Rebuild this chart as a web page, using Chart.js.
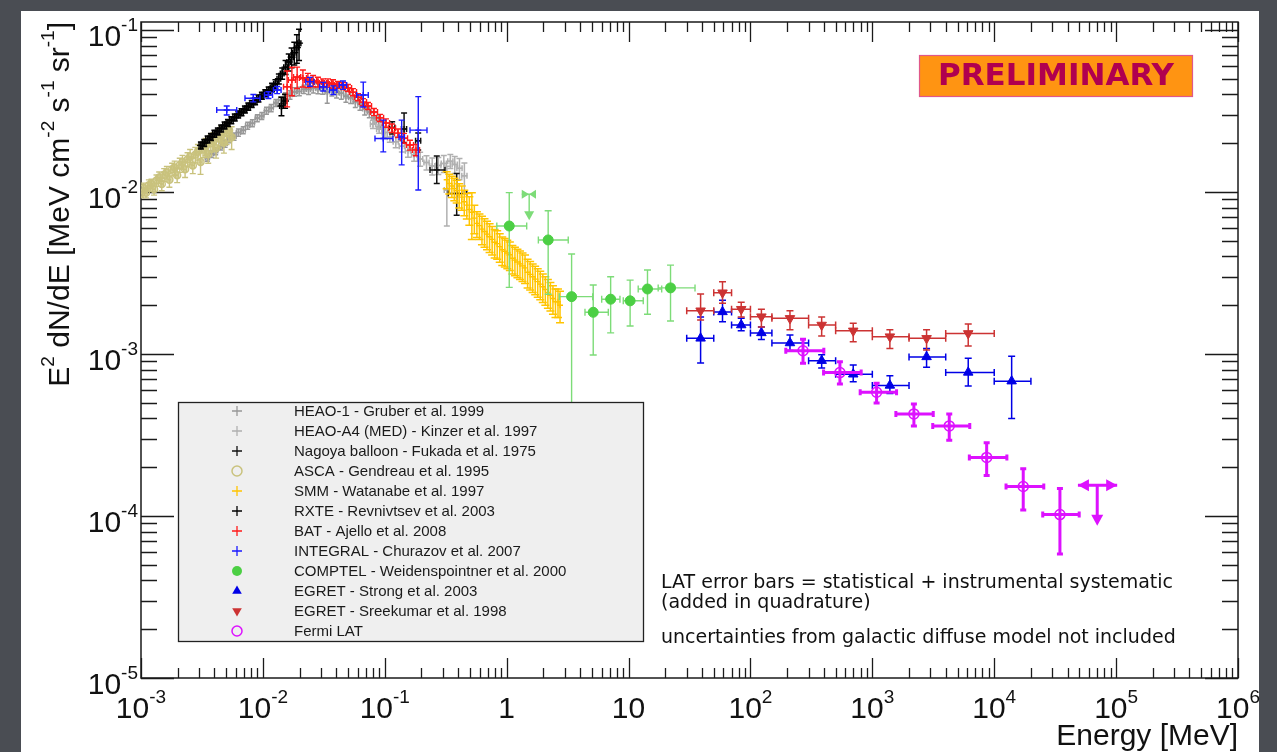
<!DOCTYPE html>
<html>
<head>
<meta charset="utf-8">
<script src="https://cdn.jsdelivr.net/npm/chart.js@4.4.1/dist/chart.umd.min.js"></script>
<style>
  html, body { margin: 0; padding: 0; background: #4a4d53; overflow: hidden; }
  canvas { display: block; }
</style>
</head>
<body>
<canvas id="sed" width="1277" height="752"></canvas>
<script>
// E in MeV, flux as E^2 dN/dE in MeV cm^-2 s^-1 sr^-1
const xTickExp = [-3, -2, -1, 0, 1, 2, 3, 4, 5, 6];
const yTickExp = [-5, -4, -3, -2, -1];

// HEAO-1 (Gruber 1999)
const gruberE = [0.0035,0.0038,0.0041,0.0045,0.0049,0.0053,0.0058,0.0063,0.0069,0.0075,0.0082,0.0090,0.0098,0.0107,0.0117,0.0128,0.0140,0.0153,0.0167,0.0182,0.0199,0.0217,0.0237,0.0259,0.0283,0.0309,0.0337,0.0368,0.0402,0.0440,0.0480,0.0525,0.0573,0.0626,0.0684,0.0747,0.0816,0.0891,0.0973];
const gruberF = [0.0163,0.0172,0.0179,0.0191,0.0199,0.0212,0.0220,0.0233,0.0241,0.0257,0.0266,0.0286,0.0295,0.0318,0.0330,0.0355,0.0369,0.0391,0.0398,0.0415,0.0418,0.0431,0.0430,0.0439,0.0434,0.0437,0.0415,0.0426,0.0413,0.0407,0.0390,0.0382,0.0361,0.0348,0.0325,0.0312,0.0287,0.0274,0.0251];
const gruberErr = [0.05,0.05,0.05,0.05,0.05,0.05,0.05,0.05,0.05,0.05,0.05,0.05,0.05,0.05,0.05,0.05,0.05,0.05,0.06,0.06,0.06,0.06,0.07,0.07,0.07,0.08,0.15,0.08,0.08,0.08,0.08,0.08,0.08,0.08,0.08,0.08,0.08,0.08,0.08];

// HEAO-A4 MED (Kinzer 1997)
const kinzerE = [0.080,0.090,0.100,0.110,0.123,0.138,0.155,0.174,0.195,0.220,0.245,0.275,0.305,0.323,0.345,0.375,0.410,0.450];
const kinzerF = [0.0262,0.0245,0.0233,0.0218,0.0204,0.0192,0.0180,0.0170,0.0160,0.0152,0.0145,0.0146,0.0150,0.0103,0.0155,0.0148,0.0140,0.0126];
const kinzerErr = [0.06,0.06,0.07,0.07,0.08,0.08,0.09,0.09,0.10,0.10,0.12,0.12,0.12,0.40,0.10,0.12,0.15,0.20];

// Nagoya balloon (Fukada 1975)
const nagoyaE = [0.115, 0.144, 0.188, 0.267, 0.389];
const nagoyaF = [0.0250, 0.0245, 0.0207, 0.0137, 0.0098];
const nagoyaElo = [0.109, 0.137, 0.179, 0.235, 0.332];
const nagoyaEhi = [0.121, 0.151, 0.197, 0.312, 0.470];
const nagoyaFlo = [0.0228, 0.0202, 0.0182, 0.0113, 0.0072];
const nagoyaFhi = [0.0272, 0.0307, 0.0231, 0.0167, 0.0130];

// ASCA (Gendreau 1995)
const ascaE = [0.00100,0.00105,0.00110,0.00116,0.00122,0.00128,0.00134,0.00141,0.00148,0.00155,0.00163,0.00171,0.00180,0.00189,0.00198,0.00208,0.00219,0.00230,0.00241,0.00253,0.00266,0.00279,0.00293,0.00308,0.00323,0.00339,0.00356,0.00374,0.00393,0.00413,0.00434,0.00456,0.00479,0.00503,0.00528,0.00554];
const ascaF = [0.0098,0.0106,0.0099,0.0110,0.0112,0.0104,0.0118,0.0123,0.0112,0.0128,0.0132,0.0119,0.0138,0.0141,0.0127,0.0147,0.0153,0.0138,0.0159,0.0165,0.0146,0.0170,0.0177,0.0153,0.0183,0.0191,0.0171,0.0200,0.0206,0.0186,0.0215,0.0224,0.0202,0.0231,0.0240,0.0218];
const ascaErr = [0.06,0.07,0.07,0.08,0.07,0.08,0.08,0.08,0.09,0.09,0.09,0.10,0.09,0.10,0.10,0.10,0.10,0.11,0.10,0.11,0.11,0.11,0.11,0.16,0.11,0.12,0.12,0.12,0.13,0.13,0.13,0.14,0.14,0.15,0.15,0.16];

// SMM (Watanabe 1997)
const smmE = [0.322,0.338,0.355,0.372,0.389,0.408,0.428,0.449,0.471,0.494,0.518,0.543,0.570,0.598,0.627,0.658,0.690,0.724,0.760,0.797,0.836,0.877,0.920,0.965,1.012,1.062,1.114,1.169,1.226,1.286,1.349,1.415,1.485,1.558,1.634,1.714,1.798,1.886,1.979,2.076,2.178,2.285,2.397,2.514,2.637,2.740];
const smmF = [0.0119,0.0113,0.0109,0.0105,0.0102,0.0096,0.0093,0.0087,0.0083,0.0078,0.0075,0.0069,0.0064,0.0062,0.0059,0.0057,0.0055,0.0053,0.0051,0.0049,0.0048,0.0046,0.0044,0.0043,0.0042,0.0041,0.0039,0.0038,0.0037,0.0036,0.0035,0.0034,0.0032,0.0031,0.0030,0.0029,0.0028,0.0027,0.0026,0.0025,0.0024,0.0023,0.0022,0.0021,0.0021,0.0020];
const smmErr = [0.12,0.14,0.15,0.16,0.16,0.17,0.17,0.18,0.18,0.20,0.32,0.20,0.18,0.18,0.20,0.20,0.20,0.20,0.20,0.20,0.20,0.20,0.20,0.20,0.20,0.20,0.20,0.20,0.20,0.20,0.20,0.20,0.20,0.20,0.20,0.20,0.20,0.20,0.20,0.20,0.20,0.20,0.20,0.20,0.20,0.22];

// RXTE (Revnivtsev 2003)
const rxteE = [0.00310,0.00330,0.00352,0.00375,0.00400,0.00427,0.00455,0.00485,0.00517,0.00551,0.00588,0.00627,0.00668,0.00712,0.00759,0.00810,0.00863,0.00920,0.00981,0.01046,0.01115,0.01189,0.01268,0.01352,0.01420,0.01440,0.01520,0.01535,0.01630,0.01720,0.01810,0.01900,0.01980];
const rxteF = [0.0194,0.0201,0.0211,0.0219,0.0229,0.0237,0.0247,0.0258,0.0267,0.0278,0.0289,0.0301,0.0311,0.0324,0.0337,0.0350,0.0364,0.0378,0.0393,0.0408,0.0424,0.0443,0.0465,0.0500,0.0340,0.0540,0.0365,0.0590,0.0635,0.0680,0.0725,0.0780,0.0830];
const rxteErr = [0.05,0.05,0.05,0.05,0.05,0.05,0.05,0.05,0.05,0.05,0.05,0.05,0.05,0.05,0.05,0.05,0.05,0.05,0.05,0.05,0.05,0.06,0.06,0.07,0.13,0.08,0.10,0.10,0.12,0.14,0.16,0.20,0.22];

// Swift BAT (Ajello 2008)
const batE = [0.0158,0.0173,0.0191,0.0213,0.0234,0.0258,0.0283,0.0311,0.0342,0.0376,0.0413,0.0454,0.0499,0.0548,0.0603,0.0662,0.0728,0.0815,0.0914,0.1023,0.1146,0.1283,0.1437,0.1609,0.1802];
const batF = [0.0447,0.0491,0.0513,0.0506,0.0491,0.0485,0.0478,0.0471,0.0471,0.0465,0.0458,0.0452,0.0439,0.0414,0.0385,0.0359,0.0340,0.0312,0.0287,0.0267,0.0248,0.0231,0.0215,0.0195,0.0182];
const batErr = [0.25,0.20,0.15,0.12,0.10,0.08,0.07,0.06,0.06,0.06,0.05,0.05,0.05,0.05,0.05,0.05,0.05,0.05,0.05,0.06,0.06,0.06,0.07,0.07,0.08];

// INTEGRAL (Churazov 2007)
const integralE = [0.00505,0.00835,0.0111,0.0131,0.0243,0.0313,0.0378,0.0454,0.0666,0.0972,0.1376,0.1883];
const integralF = [0.0321,0.0379,0.0397,0.0426,0.0480,0.0447,0.0426,0.0458,0.0397,0.0214,0.0219,0.0241];
const integralElo = [0.00418,0.00713,0.0103,0.0122,0.0225,0.0292,0.0352,0.0423,0.0588,0.0831,0.131,0.161];
const integralEhi = [0.00610,0.00947,0.0120,0.0141,0.0262,0.0335,0.0405,0.0487,0.0732,0.1167,0.145,0.222];
const integralFlo = [0.0299,0.0360,0.0378,0.0405,0.0450,0.0420,0.0400,0.0430,0.0335,0.0177,0.0147,0.0103];
const integralFhi = [0.0340,0.0400,0.0416,0.0448,0.0510,0.0475,0.0452,0.0485,0.0477,0.0278,0.0278,0.0388];

// COMPTEL (Weidenspointner 2000)
const comptelE = [1.05, 2.19, 3.41, 5.13, 7.13, 10.3, 14.3, 22.1];
const comptelF = [6.17e-3, 5.06e-3, 2.26e-3, 1.81e-3, 2.18e-3, 2.13e-3, 2.52e-3, 2.56e-3];
const comptelElo = [0.83, 1.82, 2.70, 4.39, 6.02, 9.05, 12.0, 17.5];
const comptelEhi = [1.46, 3.20, 5.08, 6.82, 8.50, 13.2, 18.7, 35.1];
const comptelFlo = [2.58e-3, 2.34e-3, 3.0e-4, 9.86e-4, 1.35e-3, 1.49e-3, 1.76e-3, 1.60e-3];
const comptelFhi = [9.91e-3, 7.67e-3, 4.14e-3, 2.67e-3, 3.00e-3, 2.86e-3, 3.30e-3, 3.54e-3];
const comptelUlE = [1.53], comptelUlF = [9.68e-3], comptelUlElo = [1.33], comptelUlEhi = [1.74], comptelUlTo = [6.7e-3];

// EGRET energy bins
const egretE = [39, 59, 84, 123, 211, 384, 697, 1393, 2786, 6120, 13900];
const egretElo = [30, 50, 70, 100, 150, 300, 500, 1000, 2000, 4000, 10000];
const egretEhi = [50, 70, 100, 150, 300, 500, 1000, 2000, 4000, 10000, 20000];
// EGRET (Strong 2003)
const strongF = [1.25e-3, 1.82e-3, 1.51e-3, 1.35e-3, 1.17e-3, 9.1e-4, 7.5e-4, 6.4e-4, 9.6e-4, 7.7e-4, 6.8e-4];
const strongFlo = [8.8e-4, 1.58e-3, 1.39e-3, 1.23e-3, 1.05e-3, 8.2e-4, 6.75e-4, 5.7e-4, 8.3e-4, 6.35e-4, 4.0e-4];
const strongFhi = [1.69e-3, 2.15e-3, 1.66e-3, 1.47e-3, 1.31e-3, 9.9e-4, 8.55e-4, 7.35e-4, 1.08e-3, 9.4e-4, 9.7e-4];
// EGRET (Sreekumar 1998)
const sreeF = [1.85e-3, 2.39e-3, 1.89e-3, 1.70e-3, 1.66e-3, 1.51e-3, 1.39e-3, 1.28e-3, 1.25e-3, 1.34e-3];
const sreeFlo = [1.62e-3, 2.06e-3, 1.69e-3, 1.47e-3, 1.41e-3, 1.29e-3, 1.19e-3, 1.08e-3, 1.06e-3, 1.12e-3];
const sreeFhi = [2.35e-3, 2.79e-3, 2.09e-3, 1.89e-3, 1.85e-3, 1.69e-3, 1.55e-3, 1.41e-3, 1.41e-3, 1.53e-3];

// Fermi LAT
const latE = [270, 542, 1084, 2193, 4276, 8670, 17300, 34600];
const latElo = [195, 398, 795, 1560, 3130, 6250, 12500, 25000];
const latEhi = [400, 810, 1580, 3160, 6300, 12700, 25500, 49800];
const latF = [1.047e-3, 7.68e-4, 5.81e-4, 4.27e-4, 3.60e-4, 2.30e-4, 1.52e-4, 1.02e-4];
const latFlo = [8.77e-4, 6.53e-4, 4.99e-4, 3.60e-4, 2.94e-4, 1.78e-4, 1.09e-4, 5.82e-5];
const latFhi = [1.233e-3, 8.95e-4, 6.59e-4, 4.91e-4, 4.27e-4, 2.83e-4, 1.96e-4, 1.48e-4];
const latUlE = [70000], latUlF = [1.55e-4], latUlElo = [48600], latUlEhi = [102000], latUlTo = [8.7e-5];

// helpers to turn arrays into points with error extents
function pts(E, F, Elo, Ehi, Flo, Fhi) {
  return E.map((e, i) => ({ x: e, y: F[i], xMin: Elo[i], xMax: Ehi[i], yMin: Flo[i], yMax: Fhi[i] }));
}
function relPts(E, F, dF, dE) {
  return E.map((e, i) => ({
    x: e, y: F[i],
    xMin: dE ? e / (1 + dE) : null, xMax: dE ? e * (1 + dE) : null,
    yMin: F[i] * (1 - dF[i]), yMax: F[i] * (1 + dF[i])
  }));
}
function ulPts(E, F, Elo, Ehi, To) {
  return E.map((e, i) => ({ x: e, y: F[i], xMin: Elo[i], xMax: Ehi[i], yMin: null, ulTo: To[i], ul: true }));
}

const series = [
  { label: 'HEAO-1 - Gruber et al. 1999', color: '#989898', style: 'cross', r: 3, lr: 5, ew: 1.5, cap: 2.5, data: relPts(gruberE, gruberF, gruberErr, 0.04) },
  { label: 'HEAO-A4 (MED) - Kinzer et al. 1997', color: '#b0b0b0', style: 'cross', r: 3, lr: 5, ew: 1.5, cap: 3, data: relPts(kinzerE, kinzerF, kinzerErr, 0.05) },
  { label: 'Nagoya balloon - Fukada et al. 1975', color: '#111111', style: 'cross', r: 3, lr: 5, ew: 1.5, cap: 3, data: pts(nagoyaE, nagoyaF, nagoyaElo, nagoyaEhi, nagoyaFlo, nagoyaFhi) },
  { label: 'ASCA - Gendreau et al. 1995', color: '#c9c27d', style: 'circle', open: true, r: 3.5, lr: 5, ew: 1.4, cap: 3, data: relPts(ascaE, ascaF, ascaErr, 0.03) },
  { label: 'SMM - Watanabe et al. 1997', color: '#ffc400', style: 'cross', r: 3, lr: 5, ew: 1.5, cap: 4, data: relPts(smmE, smmF, smmErr, 0) },
  { label: 'RXTE - Revnivtsev et al. 2003', color: '#000000', style: 'cross', r: 4, lr: 5, ew: 1.5, cap: 3, data: relPts(rxteE, rxteF, rxteErr, 0.035) },
  { label: 'BAT - Ajello et al. 2008', color: '#ff1a1a', style: 'cross', r: 3, lr: 5, ew: 1.4, cap: 3, data: relPts(batE, batF, batErr, 0.07) },
  { label: 'INTEGRAL - Churazov et al. 2007', color: '#1a1aff', style: 'cross', r: 3, lr: 5, ew: 1.4, cap: 3, data: pts(integralE, integralF, integralElo, integralEhi, integralFlo, integralFhi) },
  { label: 'COMPTEL - Weidenspointner et al. 2000', color: '#4ccf44', err: '#7ddc78', style: 'circle', r: 5, lr: 5, ew: 1.4, cap: 3.5, ulStyle: 'bowtie',
    data: pts(comptelE, comptelF, comptelElo, comptelEhi, comptelFlo, comptelFhi).concat(ulPts(comptelUlE, comptelUlF, comptelUlElo, comptelUlEhi, comptelUlTo)) },
  { label: 'EGRET - Strong et al. 2003', color: '#0000e6', style: 'triangle', r: 5.5, lr: 5.5, ew: 1.5, cap: 3.5,
    data: pts(egretE, strongF, egretElo, egretEhi, strongFlo, strongFhi) },
  { label: 'EGRET - Sreekumar et al. 1998', color: '#cc3333', style: 'triangle', rot: 180, r: 5.5, lr: 5.5, ew: 1.5, cap: 3.5,
    data: pts(egretE.slice(0, 10), sreeF, egretElo.slice(0, 10), egretEhi.slice(0, 10), sreeFlo, sreeFhi) },
  { label: 'Fermi LAT', color: '#dd11ff', style: 'circle', open: true, r: 5, lr: 5, ew: 3, cap: 3, ulStyle: 'arrows',
    data: pts(latE, latF, latElo, latEhi, latFlo, latFhi).concat(ulPts(latUlE, latUlF, latUlElo, latUlEhi, latUlTo)) }
];

const datasets = series.map((s, i) => ({
  label: s.label,
  data: s.data,
  order: 100 - i,
  showLine: false,
  pointStyle: s.style,
  pointRotation: s.rot || 0,
  pointRadius: c => (c.raw && c.raw.ul) ? 0 : s.r,
  pointHoverRadius: c => (c.raw && c.raw.ul) ? 0 : s.r,
  pointBackgroundColor: s.open ? 'rgba(0,0,0,0)' : s.color,
  pointBorderColor: s.color,
  pointBorderWidth: s.style === 'cross' ? 1.4 : (s.open ? 1.5 : 1),
  errColor: s.err || s.color,
  errWidth: s.ew,
  cap: s.cap,
  ulStyle: s.ulStyle,
  legendR: s.lr,
  legendOpen: !!s.open
}));

// error bars and upper limits, drawn just before each dataset's markers
function tri(ctx, a, b, c) {
  ctx.beginPath(); ctx.moveTo(a[0], a[1]); ctx.lineTo(b[0], b[1]); ctx.lineTo(c[0], c[1]); ctx.closePath(); ctx.fill();
}
const errorBars = {
  id: 'errorBars',
  beforeDatasetDraw(chart, args) {
    const ds = chart.data.datasets[args.index];
    const { ctx, chartArea: a } = chart;
    const xs = chart.scales.x, ys = chart.scales.y;
    const c = ds.cap;
    ctx.save();
    ctx.beginPath();
    ctx.rect(a.left, a.top, a.right - a.left, a.bottom - a.top);
    ctx.clip();
    ctx.strokeStyle = ds.errColor;
    ctx.fillStyle = ds.errColor;
    ctx.lineWidth = ds.errWidth;
    ds.data.forEach(p => {
      const px = xs.getPixelForValue(p.x), py = ys.getPixelForValue(p.y);
      ctx.beginPath();
      if (p.xMin != null) {
        const x1 = xs.getPixelForValue(p.xMin), x2 = xs.getPixelForValue(p.xMax);
        ctx.moveTo(x1, py); ctx.lineTo(x2, py);
        if (!p.ul) {
          ctx.moveTo(x1, py - c); ctx.lineTo(x1, py + c);
          ctx.moveTo(x2, py - c); ctx.lineTo(x2, py + c);
        }
      }
      if (p.yMin != null) {
        const y1 = ys.getPixelForValue(p.yMin), y2 = ys.getPixelForValue(p.yMax);
        ctx.moveTo(px, y1); ctx.lineTo(px, y2);
        ctx.moveTo(px - c, y1); ctx.lineTo(px + c, y1);
        ctx.moveTo(px - c, y2); ctx.lineTo(px + c, y2);
      }
      let yt = 0;
      if (p.ul) {
        yt = ys.getPixelForValue(p.ulTo);
        ctx.moveTo(px, py); ctx.lineTo(px, yt - 6);
      }
      ctx.stroke();
      if (p.ul) {
        const x1 = xs.getPixelForValue(p.xMin), x2 = xs.getPixelForValue(p.xMax);
        if (ds.ulStyle === 'arrows') {
          tri(ctx, [x1, py], [x1 + 11, py - 6], [x1 + 11, py + 6]);
          tri(ctx, [x2, py], [x2 - 11, py - 6], [x2 - 11, py + 6]);
          tri(ctx, [px, yt], [px - 6, yt - 11], [px + 6, yt - 11]);
        } else {
          tri(ctx, [px, py], [x1, py - 4.5], [x1, py + 4.5]);
          tri(ctx, [px, py], [x2, py - 4.5], [x2, py + 4.5]);
          tri(ctx, [px, yt], [px - 5, yt - 9], [px + 5, yt - 9]);
        }
      }
    });
    ctx.restore();
  }
};

const FONT = '"Liberation Sans", Arial, Helvetica, sans-serif';
function drawRich(ctx, parts, x, y, size, align) {
  const big = size + 'px ' + FONT;
  const small = Math.round(size * 0.64) + 'px ' + FONT;
  let w = 0;
  const widths = parts.map(p => {
    ctx.font = p.sup ? small : big;
    const m = ctx.measureText(p.t).width;
    w += m;
    return m;
  });
  let cx = align === 'right' ? x - w : (align === 'center' ? x - w / 2 : x);
  ctx.textAlign = 'left';
  ctx.textBaseline = 'alphabetic';
  parts.forEach((p, i) => {
    ctx.font = p.sup ? small : big;
    ctx.fillText(p.t, cx, p.sup ? y - size * 0.5 : y);
    cx += widths[i];
  });
}
function powParts(k) {
  if (k === 0) return [{ t: '1' }];
  if (k === 1) return [{ t: '10' }];
  return [{ t: '10' }, { t: String(k), sup: true }];
}

// white page panel, frame, inward log ticks, labels and titles
const frame = {
  id: 'frame',
  beforeDraw(chart) {
    const ctx = chart.ctx;
    ctx.save();
    ctx.fillStyle = '#ffffff';
    ctx.fillRect(21, 11, 1238, 741);
    ctx.restore();
  },
  beforeDatasetsDraw(chart) {
    const { ctx, chartArea: a } = chart;
    const xs = chart.scales.x, ys = chart.scales.y;
    ctx.save();
    ctx.strokeStyle = '#1a1a1a';
    ctx.lineWidth = 1.3;
    ctx.beginPath();
    for (let k = -3; k <= 6; k++) {
      for (let m = 1; m <= 9; m++) {
        const v = m * Math.pow(10, k);
        if (v > xs.max * 1.0001) break;
        const px = Math.round(xs.getPixelForValue(v)) + 0.5;
        const len = m === 1 ? 20 : 10;
        ctx.moveTo(px, a.bottom); ctx.lineTo(px, a.bottom - len);
        ctx.moveTo(px, a.top); ctx.lineTo(px, a.top + len);
      }
    }
    for (let k = -5; k <= -1; k++) {
      for (let m = 1; m <= 9; m++) {
        const v = m * Math.pow(10, k);
        if (v > ys.max) break;
        const py = Math.round(ys.getPixelForValue(v)) + 0.5;
        const len = m === 1 ? 33 : 16;
        ctx.moveTo(a.left, py); ctx.lineTo(a.left + len, py);
        ctx.moveTo(a.right, py); ctx.lineTo(a.right - len, py);
      }
    }
    ctx.stroke();
    ctx.lineWidth = 1.5;
    ctx.strokeRect(a.left, a.top, a.right - a.left, a.bottom - a.top);
    ctx.restore();
  },
  afterDraw(chart) {
    const { ctx, chartArea: a } = chart;
    const xs = chart.scales.x, ys = chart.scales.y;
    ctx.save();
    ctx.fillStyle = '#111111';
    xTickExp.forEach(k => drawRich(ctx, powParts(k), xs.getPixelForValue(Math.pow(10, k)), a.bottom + 40, 30, 'center'));
    yTickExp.forEach(k => drawRich(ctx, powParts(k), a.left - 3, ys.getPixelForValue(Math.pow(10, k)) + 16, 30, 'right'));
    drawRich(ctx, [{ t: 'Energy [MeV]' }], a.right, a.bottom + 67, 30, 'right');
    ctx.translate(a.left - 72, a.top);
    ctx.rotate(-Math.PI / 2);
    drawRich(ctx, [{ t: 'E' }, { t: '2', sup: true }, { t: ' dN/dE [MeV cm' }, { t: '-2', sup: true },
      { t: ' s' }, { t: '-1', sup: true }, { t: ' sr' }, { t: '-1', sup: true }, { t: ']' }], 0, 0, 30, 'right');
    ctx.restore();
  }
};

function legendMarker(ctx, ds, x, y) {
  const r = ds.legendR;
  ctx.strokeStyle = ds.pointBorderColor;
  ctx.fillStyle = ds.pointBorderColor;
  ctx.lineWidth = ds.pointStyle === 'cross' ? 1.3 : 1.5;
  ctx.beginPath();
  if (ds.pointStyle === 'cross') {
    ctx.moveTo(x - r, y); ctx.lineTo(x + r, y);
    ctx.moveTo(x, y - r); ctx.lineTo(x, y + r);
    ctx.stroke();
  } else if (ds.pointStyle === 'circle') {
    ctx.arc(x, y, r, 0, Math.PI * 2);
    if (ds.legendOpen) ctx.stroke(); else ctx.fill();
  } else {
    const s = ds.pointRotation ? -1 : 1;
    ctx.moveTo(x, y - s * r);
    ctx.lineTo(x + r * 0.87, y + s * r * 0.5);
    ctx.lineTo(x - r * 0.87, y + s * r * 0.5);
    ctx.closePath();
    ctx.fill();
  }
}

const overlay = {
  id: 'overlay',
  afterDatasetsDraw(chart) {
    const { ctx, chartArea: a } = chart;
    ctx.save();
    // legend
    const L = a.left + 37, T = a.top + 380, W = 465, H = 239;
    ctx.fillStyle = '#efefef';
    ctx.fillRect(L, T, W, H);
    ctx.strokeStyle = '#222';
    ctx.lineWidth = 1.3;
    ctx.strokeRect(L + 0.5, T + 0.5, W, H);
    chart.data.datasets.forEach((ds, i) => {
      const cy = T + 9 + i * 20;
      legendMarker(ctx, ds, L + 59, cy);
      ctx.fillStyle = '#1a1a1a';
      ctx.font = '15px ' + FONT;
      ctx.textAlign = 'left';
      ctx.textBaseline = 'middle';
      ctx.fillText(ds.label, L + 116, cy + 1);
    });
    // notes
    ctx.fillStyle = '#111';
    ctx.font = '19px "DejaVu Sans", Verdana, sans-serif';
    ctx.textBaseline = 'alphabetic';
    ctx.fillText('LAT error bars = statistical + instrumental systematic', 661, 588);
    ctx.fillText('(added in quadrature)', 661, 608);
    ctx.fillText('uncertainties from galactic diffuse model not included', 661, 643);
    // PRELIMINARY stamp
    ctx.fillStyle = '#ff9412';
    ctx.fillRect(919, 55, 273, 41);
    ctx.strokeStyle = '#e0588a';
    ctx.lineWidth = 1.2;
    ctx.strokeRect(919.5, 55.5, 273, 41);
    ctx.fillStyle = '#b0004f';
    ctx.font = 'bold 31px "DejaVu Sans", Verdana, sans-serif';
    ctx.textAlign = 'center';
    ctx.textBaseline = 'middle';
    ctx.fillText('PRELIMINARY', 1056, 77);
    ctx.restore();
  }
};

new Chart(document.getElementById('sed'), {
  type: 'scatter',
  data: { datasets },
  options: {
    responsive: false,
    animation: false,
    devicePixelRatio: 1,
    layout: { padding: { left: 141, right: 39, top: 22, bottom: 74 } },
    scales: {
      x: { type: 'logarithmic', min: 1e-3, max: 1e6, display: false },
      y: { type: 'logarithmic', min: 1e-5, max: 0.1121, display: false }
    },
    plugins: {
      legend: { display: false },
      tooltip: { enabled: false }
    }
  },
  plugins: [frame, errorBars, overlay]
});
</script>
</body>
</html>
